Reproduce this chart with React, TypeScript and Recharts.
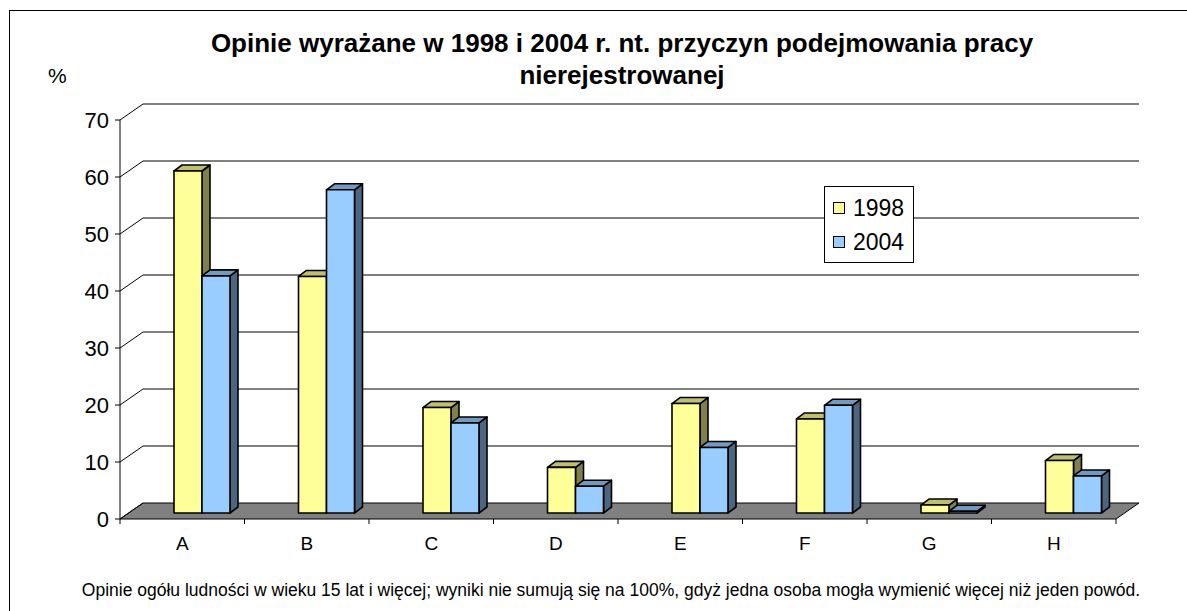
import React from 'react';
import { BarChart, Bar, XAxis, YAxis, CartesianGrid, Legend } from 'recharts';

// categories and values (in %)
const categories = ['A', 'B', 'C', 'D', 'E', 'F', 'G', 'H'];
const values1998 = [60, 41.5, 18.5, 8, 19.2, 16.5, 1.4, 9.2];
const values2004 = [41.6, 56.7, 15.8, 4.7, 11.5, 18.9, 0.3, 6.5];
const yTicks = [0, 10, 20, 30, 40, 50, 60, 70];
const seriesNames = ['1998', '2004'];

const data = categories.map((c, i) => ({
  name: c,
  y1998: values1998[i],
  y2004: values2004[i],
}));

const FONT = '"Liberation Sans", Arial, sans-serif';
const W = 1187;
const H = 611;

// plot area (in the plane of the bars)
const PLOT_LEFT = 120;
const PLOT_RIGHT = 1116;
const PLOT_TOP = 114;
const PLOT_BOTTOM = 513;
const Y_AXIS_W = 60;
const X_AXIS_H = 40;

// 3d offsets
const FRONT_DY = 6; // front edge of floor sits below bar plane
const BACK_DX = 23;
const BACK_DY = 10; // back wall above bar plane
const BAR_DX = 8;
const BAR_DY = 6;
const BAR_SHIFT = 20;

const COLORS = {
  y1998: { front: '#FFFF99', top: '#BFBF73', side: '#80804C' },
  y2004: { front: '#99CCFF', top: '#7399BF', side: '#4C6680' },
};

const make3DBar = (c: { front: string; top: string; side: string }) => (props: any) => {
  const { x, y, width, height } = props;
  if (x == null || y == null) return <g />;
  const x0 = x + BAR_SHIFT;
  const x1 = x0 + width;
  const yT = y;
  const yB = y + height;
  return (
    <g stroke="#000" strokeWidth={1.6} strokeLinejoin="round">
      <polygon
        points={`${x1},${yB} ${x1 + BAR_DX},${yB - BAR_DY} ${x1 + BAR_DX},${yT - BAR_DY} ${x1},${yT}`}
        fill={c.side}
      />
      <polygon
        points={`${x0},${yT} ${x1},${yT} ${x1 + BAR_DX},${yT - BAR_DY} ${x0 + BAR_DX},${yT - BAR_DY}`}
        fill={c.top}
      />
      <rect x={x0} y={yT} width={width} height={height} fill={c.front} />
    </g>
  );
};

// back wall gridlines + diagonal from front tick, floor drawn with the zero line
const gridLine = (props: any) => {
  const { x1, x2, y1, key } = props;
  const isFloor = Math.abs(y1 - PLOT_BOTTOM) < 0.5;
  return (
    <g key={key}>
      {isFloor && (
        <>
          <polygon
            points={`${x1},${y1 + FRONT_DY} ${x2},${y1 + FRONT_DY} ${x2 + BACK_DX},${y1 - BACK_DY} ${x1 + BACK_DX},${y1 - BACK_DY}`}
            fill="#808080"
            stroke="#000"
            strokeWidth={1}
          />
          <line x1={x1} y1={PLOT_TOP + FRONT_DY} x2={x1} y2={PLOT_BOTTOM + FRONT_DY} stroke="#000" strokeWidth={1} />
        </>
      )}
      <line x1={x1} y1={y1 + FRONT_DY} x2={x1 + BACK_DX} y2={y1 - BACK_DY} stroke="#000" strokeWidth={1} />
      {!isFloor && (
        <line x1={x1 + BACK_DX} y1={y1 - BACK_DY} x2={x2 + BACK_DX} y2={y1 - BACK_DY} stroke="#000" strokeWidth={1} />
      )}
    </g>
  );
};

const YTick = (props: any) => {
  const { y, payload } = props;
  const yy = y + FRONT_DY;
  return (
    <g>
      <line x1={PLOT_LEFT - 5} y1={yy} x2={PLOT_LEFT} y2={yy} stroke="#000" strokeWidth={1} />
      <text x={PLOT_LEFT - 11} y={yy + 8} textAnchor="end" fontFamily={FONT} fontSize={22} fill="#000">
        {payload.value}
      </text>
    </g>
  );
};

const band = (PLOT_RIGHT - PLOT_LEFT) / categories.length;

const XTick = (props: any) => {
  const { x, payload, index } = props;
  const yy = PLOT_BOTTOM + FRONT_DY;
  const last = index === categories.length - 1;
  return (
    <g>
      <line x1={x - band / 2} y1={yy} x2={x - band / 2} y2={yy + 5} stroke="#000" strokeWidth={1} />
      {last && <line x1={x + band / 2} y1={yy} x2={x + band / 2} y2={yy + 5} stroke="#000" strokeWidth={1} />}
      <text x={x} y={yy + 31} textAnchor="middle" fontFamily={FONT} fontSize={19} fill="#000">
        {payload.value}
      </text>
    </g>
  );
};

const LegendBox = () => (
  <div
    style={{
      width: 90,
      height: 77,
      border: '1px solid #000',
      background: '#fff',
      fontFamily: FONT,
      fontSize: 23,
      boxSizing: 'border-box',
      paddingLeft: 8,
      paddingTop: 4,
    }}
  >
    {seriesNames.map((n, i) => (
      <div key={n} style={{ display: 'flex', alignItems: 'center', height: 34 }}>
        <span
          style={{
            display: 'inline-block',
            width: 10,
            height: 10,
            border: '1px solid #000',
            background: i === 0 ? COLORS.y1998.front : COLORS.y2004.front,
            marginRight: 8,
          }}
        />
        <span>{n}</span>
      </div>
    ))}
  </div>
);

export default function App() {
  return (
    <div
      style={{
        position: 'absolute',
        left: 0,
        top: 0,
        width: W,
        height: H,
        overflow: 'hidden',
        background: '#fff',
        fontFamily: FONT,
      }}
    >
      <div
        style={{
          position: 'absolute',
          left: 9,
          top: 10,
          width: 1300,
          height: 800,
          border: '1.5px solid #000',
        }}
      />
      <div
        style={{
          position: 'absolute',
          left: 0,
          width: 1244,
          top: 27,
          textAlign: 'center',
          fontWeight: 'bold',
          fontSize: 26,
          lineHeight: '32px',
          color: '#000',
        }}
      >
        Opinie wyrażane w 1998 i 2004 r. nt. przyczyn podejmowania pracy
        <br />
        nierejestrowanej
      </div>
      <div style={{ position: 'absolute', left: 48, top: 64, fontSize: 21 }}>%</div>
      <div
        style={{
          position: 'absolute',
          left: 0,
          width: 1222,
          top: 580,
          textAlign: 'center',
          fontSize: 17.5,
          whiteSpace: 'nowrap',
        }}
      >
        Opinie ogółu ludności w wieku 15 lat i więcej; wyniki nie sumują się na 100%, gdyż jedna osoba mogła wymienić więcej niż jeden powód.
      </div>
      <div style={{ position: 'absolute', left: 0, top: 0 }}>
        <BarChart
          width={W}
          height={H}
          data={data}
          barSize={28}
          barGap={0}
          margin={{
            top: PLOT_TOP,
            bottom: H - PLOT_BOTTOM - X_AXIS_H,
            left: PLOT_LEFT - Y_AXIS_W,
            right: W - PLOT_RIGHT,
          }}
        >
          <CartesianGrid horizontal={gridLine} vertical={false} />
          <XAxis dataKey="name" axisLine={false} tickLine={false} height={X_AXIS_H} tick={<XTick />} interval={0} />
          <YAxis
            domain={[0, 70]}
            ticks={yTicks}
            width={Y_AXIS_W}
            axisLine={false}
            tickLine={false}
            tick={<YTick />}
            interval={0}
          />
          <Legend
            layout="vertical"
            align="center"
            verticalAlign="middle"
            wrapperStyle={{ left: 824, top: 186, width: 90 }}
            content={<LegendBox />}
          />
          <Bar dataKey="y1998" name="1998" isAnimationActive={false} shape={make3DBar(COLORS.y1998)} />
          <Bar dataKey="y2004" name="2004" isAnimationActive={false} shape={make3DBar(COLORS.y2004)} />
        </BarChart>
      </div>
    </div>
  );
}
